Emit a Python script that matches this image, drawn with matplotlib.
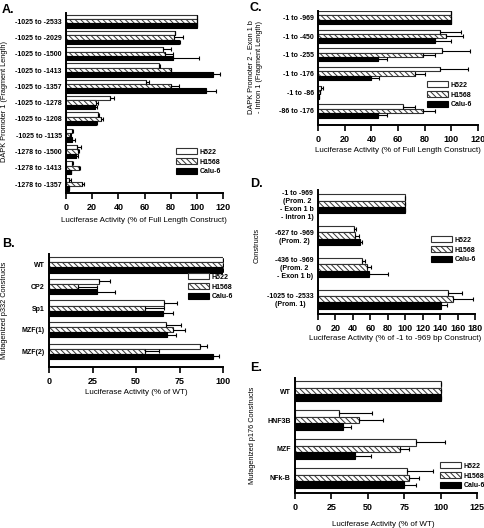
import matplotlib
matplotlib.use('Agg')
import matplotlib.pyplot as plt
import numpy as np
from matplotlib.patches import Patch

plt.rcParams['font.family'] = ['Liberation Sans Narrow', 'Liberation Sans', 'DejaVu Sans']
plt.rcParams['font.weight'] = 'bold'
plt.rcParams['font.size'] = 5
plt.rcParams['hatch.linewidth'] = 0.7

series = ['H522', 'H1568', 'Calu-6']

# Panel A
A_labels = ['-1025 to -2533', '-1025 to -2029', '-1025 to -1500', '-1025 to -1413',
            '-1025 to -1357', '-1025 to -1278', '-1025 to -1208', '-1025 to -1135',
            '-1278 to -1500', '-1278 to -1413', '-1278 to -1357']
A_h522 = [100, 83, 74, 71, 61.5, 33.5, 24.5, 4.3, 8.4, 4.9, 2.6]
A_h522_err = [0.5, 0.5, 6, 0.5, 2, 3.5, 1, 1, 3, 0.5, 1.2]
A_h1568 = [100, 82.5, 76, 80, 80, 23.3, 27, 3.1, 9.5, 10, 12.5]
A_h1568_err = [0.5, 7, 6, 0.5, 6, 1.3, 1, 0.5, 0.5, 1, 1]
A_calu = [100, 86, 82, 112, 107, 22, 23, 4.9, 7.9, 3.8, 2]
A_calu_err = [0.5, 1, 20, 5.5, 8, 1.8, 1, 2, 1.3, 0.3, 0.3]

# Panel B
B_labels = ['WT', 'CP2', 'Sp1', 'MZF(1)', 'MZF(2)']
B_h522 = [100, 28.7, 66, 67, 87]
B_h522_err = [0, 6.3, 7.6, 9, 4]
B_h1568 = [100, 16.7, 55, 71, 55]
B_h1568_err = [0, 11, 11, 7, 8]
B_calu = [100, 27.6, 65.5, 68, 94]
B_calu_err = [0, 10.4, 5.5, 4.8, 3.7]

# Panel C
C_labels = ['-1 to -969', '-1 to -450', '-1 to -255', '-1 to -176', '-1 to -86', '-86 to -176']
C_h522 = [100, 91.6, 93, 91.6, 2.6, 63.4]
C_h522_err = [0, 16, 21, 21, 1, 9]
C_h1568 = [100, 96, 79, 72.5, 1.6, 78.5]
C_h1568_err = [0, 13, 9, 8, 0, 9.5]
C_calu = [100, 88, 45, 40, 1, 45]
C_calu_err = [0, 12, 6.6, 6, 0, 6.6]

# Panel D
D_labels = ['-1 to -969\n(Prom. 2\n- Exon 1 b\n- Intron 1)', '-627 to -969\n(Prom. 2)',
            '-436 to -969\n(Prom. 2\n- Exon 1 b)', '-1025 to -2533\n(Prom. 1)']
D_h522 = [100, 40.8, 51, 149]
D_h522_err = [0, 3, 2.4, 16.6]
D_h1568 = [100, 42, 56, 154.6]
D_h1568_err = [0, 4.5, 5, 23]
D_calu = [100, 48.5, 58.8, 141]
D_calu_err = [0, 2, 21, 7]

# Panel E
E_labels = ['WT', 'HNF3B', 'MZF', 'NFk-B']
E_h522 = [100, 30.3, 83.2, 77]
E_h522_err = [0, 22.7, 19.6, 17.5]
E_h1568 = [100, 44, 72.4, 78]
E_h1568_err = [0, 16.7, 5.6, 7.5]
E_calu = [100, 33, 41.4, 75]
E_calu_err = [0, 5.6, 11, 7.8]

W, H = 485, 528
fig = plt.figure(figsize=(W / 100, H / 100), dpi=100)


def px_axes(x0, y0, x1, y1):
    return fig.add_axes([x0 / W, 1 - y1 / H, (x1 - x0) / W, (y1 - y0) / H])


styles = [dict(color='white', edgecolor='#333333'),
          dict(color='white', edgecolor='#333333', hatch='\\\\\\\\\\\\'),
          dict(color='black', edgecolor='black')]


def panel(ax, labels, vals, errs, xmax, xticks, ylim, group, xlabel, ylabel,
          ylabel_pos, xlabel_pos, legend_pos):
    n = len(labels)
    y = np.arange(n)
    bh = group / 3
    for k, (v, e) in enumerate(zip(vals, errs)):
        yy = y - bh + k * bh
        ax.barh(yy, v, height=bh, linewidth=0.8, **styles[k])
        ax.errorbar(v, yy, xerr=[np.zeros(n), e], fmt='none', ecolor='black',
                    elinewidth=0.8, capsize=1.5, capthick=0.8)
    ax.set_xlim(0, xmax)
    ax.set_ylim(*ylim)
    ax.set_xticks(xticks)
    ax.set_yticks(y)
    ax.set_yticklabels(labels)
    for t in ax.get_yticklabels():
        t.set_multialignment('center')
    ax.tick_params(axis='y', length=0, pad=3, labelsize=5)
    ax.tick_params(axis='x', length=4, width=1.2, pad=3, labelsize=6.5)
    for s in ['top', 'right']:
        ax.spines[s].set_visible(False)
    for s in ['left', 'bottom']:
        ax.spines[s].set_linewidth(1.4)
    ax.set_xlabel(xlabel, fontsize=5.8, va='center')
    ax.set_ylabel(ylabel, fontsize=5.3, va='center')
    ax.xaxis.set_label_coords(xlabel_pos[0] / W, 1 - xlabel_pos[1] / H,
                              transform=fig.transFigure)
    ax.yaxis.set_label_coords(ylabel_pos[0] / W, 1 - ylabel_pos[1] / H,
                              transform=fig.transFigure)
    handles = [Patch(facecolor=st['color'], edgecolor=st['edgecolor'],
                     hatch=st.get('hatch'), linewidth=0.8) for st in styles]
    ax.legend(handles, series, loc='upper left',
              bbox_to_anchor=(legend_pos[0] / W, 1 - legend_pos[1] / H),
              bbox_transform=fig.transFigure, frameon=False, fontsize=5,
              handlelength=3.0, handleheight=0.95, handletextpad=0.3,
              labelspacing=0.35, borderpad=0)


axA = px_axes(66, 13, 223, 193)
panel(axA, A_labels, [A_h522, A_h1568, A_calu], [A_h522_err, A_h1568_err, A_calu_err],
      120, range(0, 121, 20), (10.55, -0.5), 0.8,
      'Luciferase Activity (% of Full Length Construct)',
      'DAPK Promoter 1 (Fragment Length)', (5, 102), (144, 220), (173, 145))

axB = px_axes(49, 254, 223, 367)
panel(axB, B_labels, [B_h522, B_h1568, B_calu], [B_h522_err, B_h1568_err, B_calu_err],
      100, range(0, 101, 25), (4.74, -0.51), 0.7,
      'Luciferase Activity (% of WT)', 'Mutagenized p332 Constructs',
      (5, 310), (136, 393), (185, 270))

axC = px_axes(318, 11, 478, 125)
panel(axC, C_labels, [C_h522, C_h1568, C_calu], [C_h522_err, C_h1568_err, C_calu_err],
      120, range(0, 121, 20), (5.75, -0.35), 0.7,
      'Luciferase Activity (% of Full Length Construct)',
      'DAPK Promoter 2 - Exon 1 b\n- Intron 1 (Fragment Length)',
      (256, 67), (398, 150), (424, 78))

axD = px_axes(318, 190, 475, 314)
panel(axD, D_labels, [D_h522, D_h1568, D_calu], [D_h522_err, D_h1568_err, D_calu_err],
      180, range(0, 181, 20), (3.47, -0.44), 0.6,
      'Luciferase Activity (% of -1 to -969 bp Construct)', 'Constructs',
      (257, 245), (395, 339), (428, 233))

axE = px_axes(295, 378, 477, 493)
panel(axE, E_labels, [E_h522, E_h1568, E_calu], [E_h522_err, E_h1568_err, E_calu_err],
      125, range(0, 126, 25), (3.52, -0.45), 0.7,
      'Luciferase Activity (% of WT)', 'Mutagenized p176 Constructs',
      (253, 435), (383, 524), (437, 459))

for letter, (x, y) in zip('ABCDE', [(2, 10), (2, 244), (250, 8), (250, 184), (250, 368)]):
    fig.text(x / W, 1 - y / H, letter + '.', fontsize=9, fontweight='bold',
             family='Liberation Sans', va='center', ha='left')

fig.savefig('out.png', dpi=100)
